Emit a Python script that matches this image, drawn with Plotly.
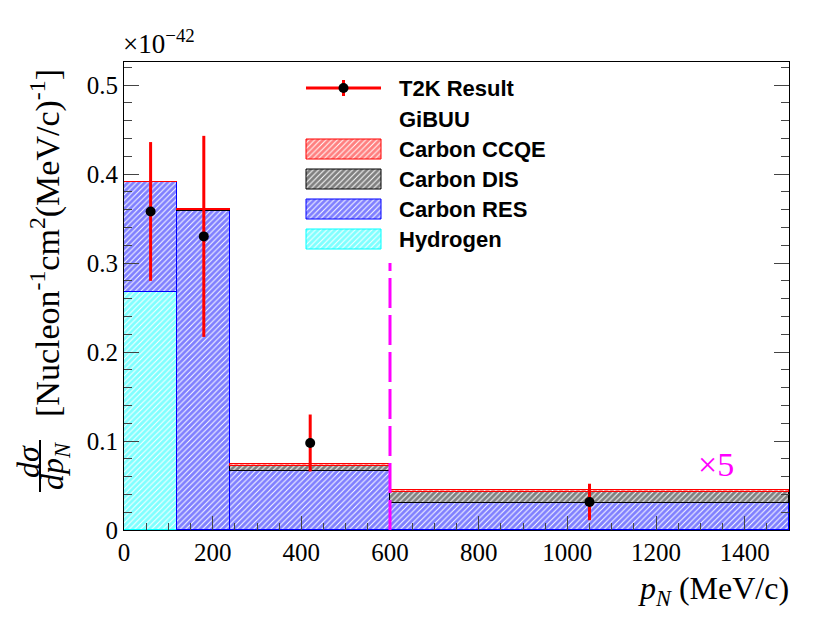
import plotly.graph_objects as go

# histogram bins (MeV/c) and stacked GiBUU components (x1e-42)
bin_edges = [0, 120, 240, 600, 1500]
hydrogen = [0.268, 0.0, 0.0, 0.0]
carbon_res = [0.123, 0.358, 0.0667, 0.030]
carbon_dis = [0.0, 0.0015, 0.0056, 0.0127]
carbon_ccqe = [0.0, 0.0008, 0.0019, 0.0023]

# T2K data points
t2k_x = [60, 180, 420, 1050]
t2k_y = [0.358, 0.330, 0.0978, 0.0315]
t2k_err = [0.078, 0.113, 0.032, 0.0205]

scale_boundary = 600
boundary_top = 0.30

centers = [(a + b) / 2 for a, b in zip(bin_edges[:-1], bin_edges[1:])]
widths = [b - a for a, b in zip(bin_edges[:-1], bin_edges[1:])]

# page body adds an 8px offset, so shrink the figure by that much
OFF = 8
W, H = 830 - OFF, 623 - OFF
# plot frame in screen pixels
L, R, T, B = 124, 789, 62, 530


def px(x):
    return (x - L) / (R - L)


def py(y):
    return (B - y) / (B - T)


fig = go.Figure()

components = [
    ("Hydrogen", hydrogen, "#00ffff"),
    ("Carbon RES", carbon_res, "#0000ff"),
    ("Carbon DIS", carbon_dis, "#000000"),
    ("Carbon CCQE", carbon_ccqe, "#ff0000"),
]
hatch = dict(shape="/", size=4, solidity=0.75, bgcolor="white")
for name, vals, col in components:
    fig.add_trace(go.Bar(
        x=centers, y=vals, width=widths, name=name,
        marker=dict(color=col, line=dict(color=col, width=1),
                    pattern=dict(fgcolor=col, **hatch)),
        showlegend=False))

fig.add_trace(go.Scatter(
    x=t2k_x, y=t2k_y, mode="markers", name="T2K Result",
    marker=dict(color="black", size=10),
    error_y=dict(type="data", array=t2k_err, color="red", thickness=3, width=0),
    showlegend=False))

# hand-made ROOT style legend on a pixel overlay axis
leg_x0, leg_x1, leg_text = 306, 381, 397
leg_rows = [88, 119, 149, 179, 209, 239]
leg_mid = (leg_x0 + leg_x1) / 2
fig.add_trace(go.Scatter(x=[leg_x0, leg_x1], y=[leg_rows[0]] * 2, mode="lines",
                         line=dict(color="red", width=3), xaxis="x2", yaxis="y2",
                         showlegend=False, hoverinfo="skip"))
fig.add_trace(go.Scatter(x=[leg_mid] * 2, y=[leg_rows[0] - 8, leg_rows[0] + 8],
                         mode="lines", line=dict(color="red", width=3), xaxis="x2", yaxis="y2",
                         showlegend=False, hoverinfo="skip"))
fig.add_trace(go.Scatter(x=[leg_mid], y=[leg_rows[0]], mode="markers",
                         marker=dict(color="black", size=10), xaxis="x2", yaxis="y2",
                         showlegend=False, hoverinfo="skip"))
legend_items = [("T2K Result", None), ("GiBUU", None)] + [
    (n, c) for n, _, c in components[::-1]]
for (name, col), yy in zip(legend_items, leg_rows):
    if col is not None:
        fig.add_trace(go.Scatter(
            x=[leg_x0, leg_x1, leg_x1, leg_x0, leg_x0],
            y=[yy - 10, yy - 10, yy + 10, yy + 10, yy - 10],
            mode="lines", fill="toself", line=dict(color=col, width=1),
            fillcolor="white", fillpattern=dict(fgcolor=col, **hatch),
            xaxis="x2", yaxis="y2", showlegend=False, hoverinfo="skip"))
    fig.add_annotation(x=px(leg_text), y=py(yy), xref="paper", yref="paper",
                       text="<b>%s</b>" % name, showarrow=False, xanchor="left",
                       yanchor="middle",
                       font=dict(family="Liberation Sans", size=22, color="black"))

fig.add_shape(type="line", x0=scale_boundary, x1=scale_boundary, y0=0, y1=boundary_top,
              xref="x", yref="y", line=dict(color="#ff00ff", width=3, dash="30px,7px"))
fig.add_annotation(x=px(716), y=py(464), xref="paper", yref="paper", text="×5",
                   showarrow=False, xanchor="center", yanchor="middle",
                   font=dict(family="Liberation Serif", size=34, color="#ff00ff"))

# axis titles and exponent
serif = "Liberation Serif"
fig.add_annotation(x=px(121), y=py(42), xref="paper", yref="paper", xanchor="left",
                   yanchor="middle", text="×10<sup>−42</sup>", showarrow=False,
                   font=dict(family=serif, size=27, color="black"))
fig.add_annotation(x=px(791), y=py(590), xref="paper", yref="paper", xanchor="right",
                   yanchor="middle",
                   text="<i>p</i><sub><i>N</i></sub> (MeV/c)", showarrow=False,
                   font=dict(family=serif, size=32, color="black"))
fig.add_annotation(x=px(46), y=py(243), xref="paper", yref="paper", textangle=-90,
                   xanchor="center", yanchor="middle",
                   text="[Nucleon<sup>-1</sup>cm<sup>2</sup>(MeV/c)<sup>-1</sup>]",
                   showarrow=False, font=dict(family=serif, size=34, color="black"))
fig.add_annotation(x=px(28), y=py(462), xref="paper", yref="paper", textangle=-90,
                   xanchor="center", yanchor="middle",
                   text="<i>dσ</i>", showarrow=False,
                   font=dict(family=serif, size=32, color="black"))
fig.add_annotation(x=px(54), y=py(466), xref="paper", yref="paper", textangle=-90,
                   xanchor="center", yanchor="middle",
                   text="<i>dp</i><sub><i>N</i></sub>", showarrow=False,
                   font=dict(family=serif, size=32, color="black"))
fig.add_shape(type="line", x0=px(40), x1=px(40), y0=py(440), y1=py(492),
              xref="paper", yref="paper", line=dict(color="black", width=2))

fig.update_layout(
    width=W, height=H,
    margin=dict(l=L - OFF, r=W - (R - OFF), t=T - OFF, b=H - (B - OFF)),
    paper_bgcolor="white", plot_bgcolor="white",
    barmode="stack", bargap=0,
    font=dict(family=serif, size=25, color="black"),
    xaxis=dict(range=[0, 1500], dtick=200, ticks="inside", ticklen=14, tickwidth=1,
               showline=True, linecolor="black", linewidth=1, mirror=True,
               showgrid=False, zeroline=False,
               minor=dict(dtick=50, ticks="inside", ticklen=7, showgrid=False)),
    yaxis=dict(range=[0, 0.526], dtick=0.1, ticks="inside", ticklen=15, tickwidth=1,
               showline=True, linecolor="black", linewidth=1, mirror="allticks",
               showgrid=False, zeroline=False,
               minor=dict(dtick=0.02, ticks="inside", ticklen=8, showgrid=False)),
    xaxis2=dict(range=[L, R], overlaying="x", anchor="y2", visible=False),
    yaxis2=dict(range=[B, T], overlaying="y", anchor="x2", visible=False),
)

fig.write_html("out.html")
